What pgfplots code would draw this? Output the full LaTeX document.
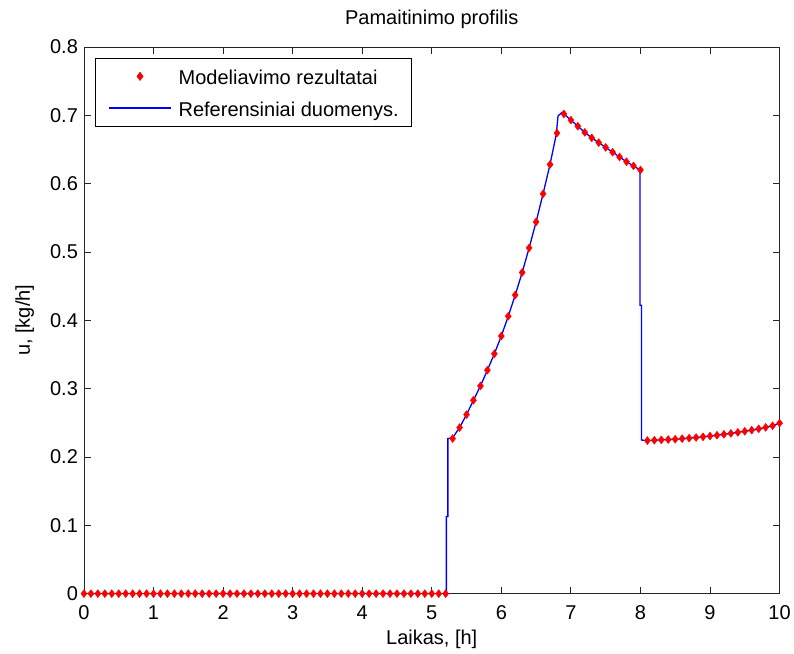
\documentclass[border=0pt]{standalone}
\usepackage{fontspec}
\setmainfont{Liberation Sans}
\usepackage{pgfplots}
\pgfplotsset{compat=1.18}

% Legend samples: a lone marker and a line segment, both 62pt wide
\pgfplotsset{
  markleg/.style={legend image code/.code={
    \path[draw=none, fill=none] (0pt,0pt) -- (62pt,0pt);
    \draw[##1, draw=none] plot[only marks] coordinates {(31pt,0pt)};
    \path[##1] plot[only marks] coordinates {(31pt,0pt)};
  }},
  lineleg/.style={legend image code/.code={
    \draw[##1] (0pt,0pt) -- (62pt,0pt);
  }},
}

% Simulated feed profile, sampled every 0.1 h
\pgfplotstableread{
t u
0.0 0
0.1 0
0.2 0
0.3 0
0.4 0
0.5 0
0.6 0
0.7 0
0.8 0
0.9 0
1.0 0
1.1 0
1.2 0
1.3 0
1.4 0
1.5 0
1.6 0
1.7 0
1.8 0
1.9 0
2.0 0
2.1 0
2.2 0
2.3 0
2.4 0
2.5 0
2.6 0
2.7 0
2.8 0
2.9 0
3.0 0
3.1 0
3.2 0
3.3 0
3.4 0
3.5 0
3.6 0
3.7 0
3.8 0
3.9 0
4.0 0
4.1 0
4.2 0
4.3 0
4.4 0
4.5 0
4.6 0
4.7 0
4.8 0
4.9 0
5.0 0
5.1 0
5.2 0
5.3 0.227
5.4 0.243
5.5 0.262
5.6 0.283
5.7 0.304
5.8 0.327
5.9 0.351
6.0 0.377
6.1 0.406
6.2 0.437
6.3 0.470
6.4 0.506
6.5 0.544
6.6 0.585
6.7 0.628
6.8 0.674
6.9 0.702
7.0 0.693
7.1 0.684
7.2 0.675
7.3 0.667
7.4 0.660
7.5 0.653
7.6 0.646
7.7 0.639
7.8 0.632
7.9 0.626
8.0 0.620
8.1 0.2240
8.2 0.2245
8.3 0.2250
8.4 0.2255
8.5 0.2260
8.6 0.2268
8.7 0.2276
8.8 0.2285
8.9 0.2295
9.0 0.2306
9.1 0.2318
9.2 0.2331
9.3 0.2345
9.4 0.2360
9.5 0.2376
9.6 0.2393
9.7 0.2412
9.8 0.2433
9.9 0.2457
10.0 0.2495
}\simdata

% Reference feed profile
\pgfplotstableread{
t u
0.0 0
5.21 0
5.21 0.113
5.232 0.113
5.232 0.227
5.3 0.228
5.4 0.243
5.5 0.262
5.6 0.283
5.7 0.304
5.8 0.327
5.9 0.351
6.0 0.377
6.1 0.406
6.2 0.437
6.3 0.470
6.4 0.506
6.5 0.544
6.6 0.585
6.7 0.628
6.79 0.672
6.815 0.699
6.87 0.704
6.9 0.702
7.0 0.693
7.1 0.684
7.2 0.675
7.3 0.667
7.4 0.660
7.5 0.653
7.6 0.646
7.7 0.639
7.8 0.632
7.9 0.626
7.995 0.620
7.995 0.422
8.015 0.422
8.015 0.2248
8.1 0.2240
8.2 0.2245
8.3 0.2250
8.4 0.2255
8.5 0.2260
8.6 0.2268
8.7 0.2276
8.8 0.2285
8.9 0.2295
9.0 0.2306
9.1 0.2318
9.2 0.2331
9.3 0.2345
9.4 0.2360
9.5 0.2376
9.6 0.2393
9.7 0.2412
9.8 0.2433
9.9 0.2457
10.0 0.2495
}\refdata

\definecolor{mlblue}{RGB}{0,0,255}
\definecolor{mlred}{RGB}{255,0,0}

\begin{document}
\begin{tikzpicture}
\begin{axis}[
  scale only axis,
  width=696pt, height=547pt,
  xmin=0, xmax=10, ymin=0, ymax=0.8,
  xtick={0,1,...,10},
  ytick={0,0.1,0.2,0.3,0.4,0.5,0.6,0.7,0.8},
  yticklabels={0,0.1,0.2,0.3,0.4,0.5,0.6,0.7,0.8},
  font=\fontsize{20}{24}\selectfont,
  /pgf/number format/assume math mode=true,
  tick align=inside,
  major tick length=7pt,
  axis line style={line width=0.9pt, black!85},
  every tick/.style={line width=0.9pt, black!85},
  xticklabel style={anchor=base, yshift=-26pt},
  yticklabel style={xshift=-2.5pt},
  title={Pamaitinimo profilis},
  title style={at={(axis description cs:0.5,1.031)}, anchor=base, inner sep=0pt},
  xlabel={Laikas, [h]},
  xlabel style={at={(axis description cs:0.5,-0.0932)}, anchor=base, inner sep=0pt},
  ylabel={u, [kg/h]},
  ylabel style={at={(axis description cs:-0.0776,0.5)}, rotate=0, anchor=base, inner sep=0pt},
  legend cell align=left,
  legend style={
    at={(axis description cs:0.0158,0.98)}, anchor=north west,
    draw=black, line width=0.9pt,
    inner xsep=13pt, inner ysep=6pt,
    row sep=7.7pt, column sep=7pt,
    nodes={inner sep=0pt, text height=20pt, text depth=4pt},
    font=\fontsize{20}{24}\selectfont,
  },
]
\addplot[only marks, mark=diamond*, mark size=4pt, color=mlred,
  mark options={fill=mlred, draw=mlred, line width=0.4pt},
  markleg] table[x=t, y=u] {\simdata};
\addlegendentry{Modeliavimo rezultatai}
\addplot[color=mlblue, line width=1.3pt, mark=none, lineleg]
  table[x=t, y=u] {\refdata};
\addlegendentry{Referensiniai duomenys.}
\end{axis}
% page frame around the axis box
\path ([shift={(-84pt,-60pt)}]current axis.south west) rectangle ([shift={(14pt,47pt)}]current axis.north east);
\end{tikzpicture}
\end{document}
